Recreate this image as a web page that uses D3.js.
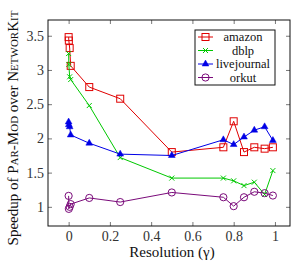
<!DOCTYPE html>
<html>
<head>
<meta charset="utf-8">
<script src="https://cdn.jsdelivr.net/npm/d3@7"></script>
<style>
  body { margin: 0; background: #fff; }
  svg text { font-family: "Liberation Serif", "DejaVu Serif", serif; }
</style>
</head>
<body>
<div class="chart"></div>
<script>
const resolution = [0, 0.001, 0.005, 0.01, 0.1, 0.25, 0.5, 0.75, 0.8, 0.85, 0.9, 0.95, 0.99];
const amazon      = [3.48, 3.43, 3.32, 3.06, 2.75, 2.58, 1.80, 1.87, 2.25, 1.80, 1.87, 1.85, 1.87];
const dblp        = [3.24, 3.08, 2.90, 2.86, 2.48, 1.72, 1.42, 1.42, 1.38, 1.31, 1.36, 1.18, 1.53];
const livejournal = [2.24, 2.20, 2.17, 2.05, 1.93, 1.77, 1.75, 1.98, 1.91, 2.02, 2.12, 2.17, 1.97];
const orkut       = [1.16, 0.97, 1.00, 1.04, 1.13, 1.07, 1.21, 1.14, 1.01, 1.14, 1.22, 1.20, 1.165];
const seriesNames = ['amazon', 'dblp', 'livejournal', 'orkut'];
const xTicks = [0, 0.2, 0.4, 0.6, 0.8, 1];
const yTicks = [1, 1.5, 2, 2.5, 3, 3.5];

const containerWidth = 291;
const containerHeight = 265;
const margin = { top: 20, right: 1, bottom: 39, left: 48 };
const width = containerWidth - margin.left - margin.right;
const height = containerHeight - margin.top - margin.bottom;

const series = [
  { name: 'amazon', values: amazon, color: '#e00000', marker: 'square' },
  { name: 'dblp', values: dblp, color: '#00c800', marker: 'x' },
  { name: 'livejournal', values: livejournal, color: '#0000e6', marker: 'triangle' },
  { name: 'orkut', values: orkut, color: '#7a0a7a', marker: 'circle' }
];

const svg = d3.select('.chart')
  .append('svg')
  .attr('width', containerWidth)
  .attr('height', containerHeight);

const g = svg.append('g')
  .attr('transform', `translate(${margin.left}, ${margin.top})`);

const xScale = d3.scaleLinear().domain([-0.1, 1.073]).range([0, width]);
const yScale = d3.scaleLinear().domain([0.72, 3.73]).range([height, 0]);

// axes, ticks inward on all sides
const fmt = d => d3.format('')(d);
g.append('g')
  .attr('transform', `translate(0, ${height})`)
  .call(d3.axisBottom(xScale).tickValues(xTicks).tickSize(-4).tickPadding(5).tickFormat(fmt));
g.append('g')
  .call(d3.axisTop(xScale).tickValues(xTicks).tickSize(-4).tickFormat(''));
g.append('g')
  .call(d3.axisLeft(yScale).tickValues(yTicks).tickSize(-4).tickPadding(4).tickFormat(fmt));
g.append('g')
  .attr('transform', `translate(${width}, 0)`)
  .call(d3.axisRight(yScale).tickValues(yTicks).tickSize(-4).tickFormat(''));

g.selectAll('.domain').remove();
g.selectAll('.tick line').attr('stroke', '#555').attr('stroke-width', 0.8);
g.selectAll('.tick text').attr('font-size', 14).attr('fill', '#333')
  .style('font-family', '"Liberation Serif", serif');

g.append('rect')
  .attr('width', width).attr('height', height)
  .attr('fill', 'none').attr('stroke', '#111').attr('stroke-width', 1);

function drawMarker(sel, type, color) {
  if (type === 'square') {
    sel.append('rect').attr('x', -3.5).attr('y', -3.5).attr('width', 7).attr('height', 7)
      .attr('fill', 'none').attr('stroke', color).attr('stroke-width', 1);
  } else if (type === 'x') {
    sel.append('path').attr('d', 'M-2.5,-2.5L2.5,2.5M-2.5,2.5L2.5,-2.5')
      .attr('stroke', color).attr('stroke-width', 1);
  } else if (type === 'triangle') {
    sel.append('path').attr('d', d3.symbol(d3.symbolTriangle, 20)())
      .attr('fill', color).attr('stroke', color).attr('stroke-width', 0.5);
  } else {
    sel.append('circle').attr('r', 3.6)
      .attr('fill', 'none').attr('stroke', color).attr('stroke-width', 1);
  }
}

const line = d3.line()
  .x(d => xScale(d.x))
  .y(d => yScale(d.y));

series.forEach(s => {
  const pts = resolution.map((x, i) => ({ x, y: s.values[i] }));
  g.append('path')
    .datum(pts)
    .attr('fill', 'none')
    .attr('stroke', s.color)
    .attr('stroke-width', 1)
    .attr('d', line);
  g.selectAll(null)
    .data(pts)
    .enter()
    .append('g')
    .attr('transform', d => `translate(${xScale(d.x)}, ${yScale(d.y)})`)
    .each(function () { drawMarker(d3.select(this), s.marker, s.color); });
});

// legend
const legend = svg.append('g').attr('transform', 'translate(195, 30)');
legend.append('rect')
  .attr('width', 80).attr('height', 55)
  .attr('fill', '#fff').attr('stroke', '#111').attr('stroke-width', 1);
series.forEach((s, i) => {
  const row = legend.append('g').attr('transform', `translate(0, ${7 + i * 13.5})`);
  row.append('line').attr('x1', 3).attr('x2', 18)
    .attr('stroke', s.color).attr('stroke-width', 1);
  const m = row.append('g').attr('transform', 'translate(10.5, 0)');
  drawMarker(m, s.marker, s.color);
  row.append('text')
    .attr('x', 48).attr('y', 0).attr('dy', '0.32em')
    .attr('text-anchor', 'middle')
    .attr('font-size', 12.5)
    .attr('fill', '#111')
    .text(seriesNames[i]);
});

// axis titles
svg.append('text')
  .attr('x', 172).attr('y', 257)
  .attr('text-anchor', 'middle')
  .attr('font-size', 15)
  .attr('fill', '#111')
  .text('Resolution (γ)');

const yTitle = svg.append('text')
  .attr('transform', 'translate(18, 128) rotate(-90)')
  .attr('text-anchor', 'middle')
  .attr('font-size', 15)
  .attr('fill', '#111');
const parts = [
  ['Speedup of P', 15], ['AR', 11], ['-M', 15], ['OD', 11], [' over N', 15],
  ['ETWOR', 11], ['K', 15], ['IT', 11]
];
parts.forEach(p => yTitle.append('tspan').attr('font-size', p[1]).text(p[0]));
</script>
</body>
</html>
